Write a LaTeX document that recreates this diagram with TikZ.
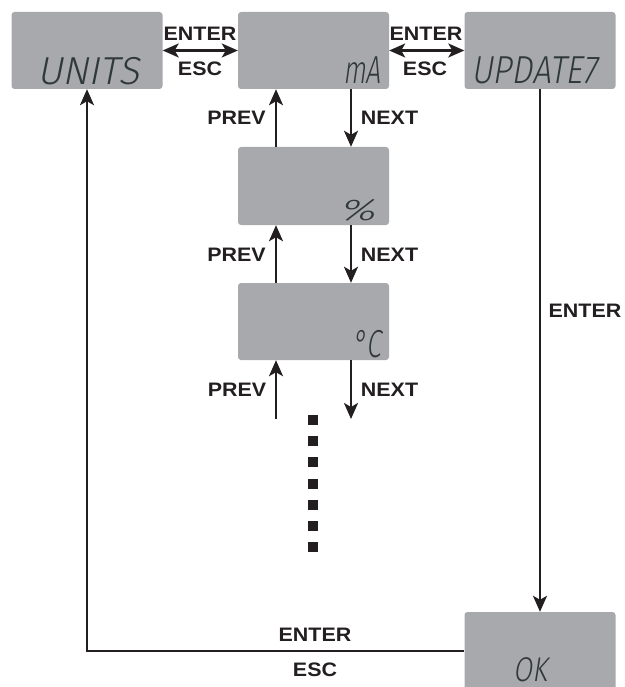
\documentclass[tikz,border=0pt]{standalone}
\usepackage{fontspec}
\setmainfont{Liberation Sans}
\newfontfamily\lcdfont{Fira Sans}[UprightFont={* Light},FakeSlant=0.2]
\usetikzlibrary{arrows.meta}
\definecolor{lcdgray}{HTML}{A7A9AC}
\definecolor{ink}{HTML}{231F20}
\definecolor{lcdink}{HTML}{2F383A}
\tikzset{
  lcdbox/.style={rectangle, rounded corners=3pt, fill=lcdgray, draw=none, inner sep=0pt, minimum width=151pt, minimum height=77pt},
  lcdtxt/.style={font=\lcdfont\fontsize{39}{39}\selectfont, text=lcdink, inner sep=0pt},
  lbl/.style={font=\bfseries\fontsize{19.5}{20}\selectfont, text=ink, inner sep=0pt, xscale=1.1},
  conn/.style={draw=ink, line width=2.2pt},
  arr/.style={conn, -{Stealth[length=16pt,width=14pt,inset=4pt]}},
  darr/.style={conn, {Stealth[length=16pt,width=14pt,inset=4pt]}-{Stealth[length=16pt,width=14pt,inset=4pt]}},
}
\begin{document}
\begin{tikzpicture}[x=1pt,y=-1pt]
\useasboundingbox (0,0) rectangle (624,687);
\clip (0,0) rectangle (624,687);
% boxes
\node[lcdbox] (units) at (87,50.5) {};
\node[lcdbox] (ma) at (313.5,50.5) {};
\node[lcdbox] (upd) at (540,50.5) {};
\node[lcdbox, minimum height=78pt] (pct) at (313.5,186) {};
\node[lcdbox] (degc) at (313.5,321.5) {};
\node[lcdbox, minimum height=78pt] (ok) at (540,651) {};
% lcd texts
\node[lcdtxt, anchor=base west] (tunits) at (37,85) {UNITS};
\node[lcdtxt, anchor=base east, xscale=0.68] (tma) at (381,84) {mA};
\node[lcdtxt, anchor=base west, xscale=0.85] (tupd) at (471,84) {UPDATE7};
\node[lcdtxt, anchor=base east, font=\lcdfont\fontsize{30}{30}\selectfont, xscale=1.5] (tpct) at (375,220) {\%};
\node[lcdtxt, anchor=base east, xscale=0.68] (tdeg) at (381,357) {°C};
\node[lcdtxt, anchor=base west, xscale=0.7, yscale=0.88] (tok) at (513,681) {OK};
% free ends
\coordinate (p3) at (276,419);
\coordinate (n3) at (351,419);
% connectors
\draw[darr] (units) -- (ma);
\draw[darr] (ma) -- (upd);
\draw[arr] ([xshift=-37.5pt]pct.north) -- ([xshift=-37.5pt]ma.south);
\draw[arr] ([xshift=37.5pt]ma.south) -- ([xshift=37.5pt]pct.north);
\draw[arr] ([xshift=-37.5pt]degc.north) -- ([xshift=-37.5pt]pct.south);
\draw[arr] ([xshift=37.5pt]pct.south) -- ([xshift=37.5pt]degc.north);
\draw[arr] (p3) -- (p3 |- degc.south);
\draw[arr] (n3 |- degc.south) -- (n3);
\draw[arr] (upd) -- (ok);
\draw[arr] (ok.west) -| (units.south);
% labels
\node[lbl] (e1) at (200,33.5) {ENTER};
\node[lbl] (s1) at (200,68.5) {ESC};
\node[lbl] (e2) at (426,33.5) {ENTER};
\node[lbl] (s2) at (425,68.5) {ESC};
\node[lbl] (pv1) at (236.5,118) {PREV};
\node[lbl] (nx1) at (389.5,118) {NEXT};
\node[lbl] (pv2) at (236.5,254.5) {PREV};
\node[lbl] (nx2) at (389.5,254.5) {NEXT};
\node[lbl] (pv3) at (237,390) {PREV};
\node[lbl] (nx3) at (389.5,390) {NEXT};
\node[lbl] (e3) at (585,310.5) {ENTER};
\node[lbl] (e4) at (315,635) {ENTER};
\node[lbl] (s4) at (315,669.5) {ESC};
% continuation dots
\foreach \i in {0,...,6}
  \fill[ink] (307.5,{415+21.2*\i}) rectangle ++(10,10);
\end{tikzpicture}
\end{document}
